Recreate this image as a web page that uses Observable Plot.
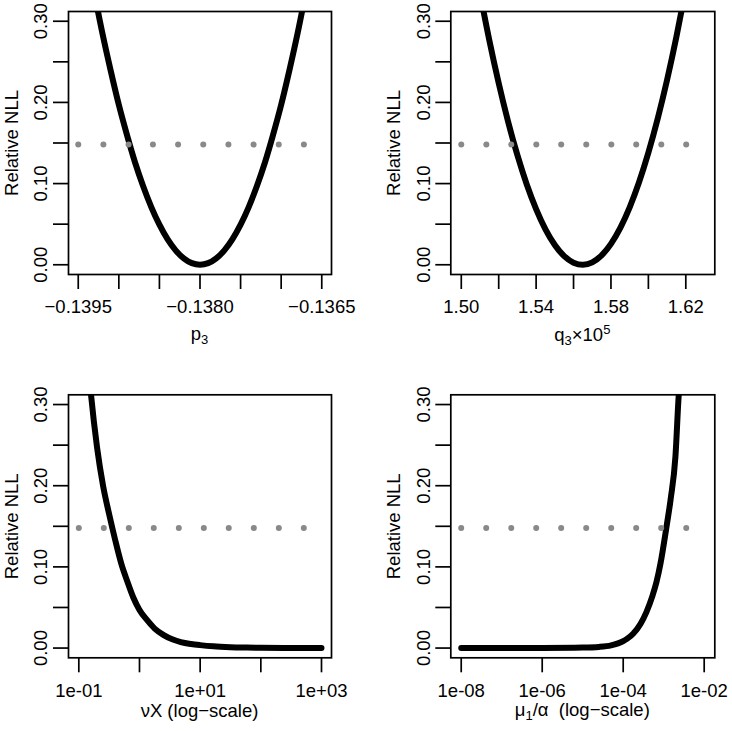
<!DOCTYPE html>
<html>
<head>
<meta charset="utf-8">
<script src="https://cdn.jsdelivr.net/npm/d3@7"></script>
<script src="https://cdn.jsdelivr.net/npm/@observablehq/plot@0.6"></script>
<style>
  html, body { margin: 0; padding: 0; background: #fff; }
  #fig { position: relative; width: 732px; height: 731px; background: #fff; overflow: hidden; }
  .panel { position: absolute; }
</style>
</head>
<body>
<div id="fig"></div>
<script>
// ---------------- data ----------------
const nllLevel = 0.148;

// panel 1: p3
const p3X = [-0.1395,-0.1394,-0.1393,-0.1392,-0.1391,-0.1390,-0.1389,-0.1388,-0.1387,-0.1386,-0.1385,-0.1384,-0.1383,-0.1382,-0.1381,-0.1380,-0.1379,-0.1378,-0.1377,-0.1376,-0.1375,-0.1374,-0.1373,-0.1372,-0.1371,-0.1370,-0.1369,-0.1368,-0.1367,-0.1366,-0.1365];
const p3NLL = [0.444,0.387,0.334,0.284,0.239,0.197,0.160,0.126,0.0968,0.0711,0.0494,0.0316,0.0178,0.0079,0.0020,0.0,0.0020,0.0079,0.0178,0.0316,0.0494,0.0711,0.0968,0.126,0.160,0.197,0.239,0.284,0.334,0.387,0.444];
const p3Dots = [-0.1395,-0.13919,-0.13888,-0.13858,-0.13827,-0.13796,-0.13765,-0.13734,-0.13703,-0.13672];
const p3Ticks = [-0.1395,-0.1390,-0.1385,-0.1380,-0.1375,-0.1370,-0.1365];
const p3TickLabels = ["\u22120.1395","","","\u22120.1380","","","\u22120.1365"];

// panel 2: q3 x 10^5
const q3X = [1.500,1.505,1.510,1.515,1.520,1.525,1.530,1.535,1.540,1.545,1.550,1.555,1.560,1.565,1.570,1.575,1.580,1.585,1.590,1.595,1.600,1.605,1.610,1.615,1.620,1.625,1.630];
const q3NLL = [0.468,0.399,0.335,0.2765,0.2238,0.1766,0.1350,0.0990,0.0686,0.0437,0.0244,0.0107,0.0026,0.0,0.0030,0.0116,0.0258,0.0455,0.0708,0.1017,0.1382,0.1802,0.2278,0.281,0.3398,0.404,0.474];
const q3Dots = [1.5000,1.5134,1.5267,1.5401,1.5534,1.5668,1.5802,1.5935,1.6069,1.6202];
const q3Ticks = [1.50,1.52,1.54,1.56,1.58,1.60,1.62];
const q3TickLabels = ["1.50","","1.54","","1.58","","1.62"];

// panel 3: nu X (log scale)
const nuX = [0.1,0.126,0.158,0.2,0.251,0.316,0.398,0.501,0.631,0.794,1,1.35,1.78,2.51,3.55,4.79,7.08,10,16.6,31.6,58.9,100,316,1000];
const nuNLL = [0.50,0.40,0.314,0.247,0.200,0.165,0.133,0.104,0.082,0.062,0.047,0.034,0.024,0.016,0.0105,0.0074,0.0050,0.0036,0.0021,0.0011,0.0006,0.0003,0.0001,0.0];
const nuDots = [0.1,0.258,0.667,1.72,4.45,11.5,29.6,76.6,198,511];
const nuTicks = [0.1,1,10,100,1000];
const nuTickLabels = ["1e-01","","1e+01","","1e+03"];

// panel 4: mu1 / alpha (log scale)
const muX = [1e-8,1e-7,1e-6,1e-5,2.51e-5,5.01e-5,1e-4,1.26e-4,1.78e-4,2.69e-4,3.72e-4,5.25e-4,6.61e-4,8.32e-4,1.17e-3,1.48e-3,1.95e-3,2.34e-3,2.82e-3,3.16e-3,3.98e-3];
const muNLL = [0.0,0.0,0.0001,0.0006,0.0014,0.0033,0.0085,0.0116,0.018,0.030,0.044,0.064,0.081,0.104,0.149,0.183,0.236,0.31,0.357,0.40,0.50];
const muDots = [1e-8,4.14e-8,1.72e-7,7.11e-7,2.94e-6,1.22e-5,5.06e-5,2.09e-4,8.67e-4,3.60e-3];
const muTicks = [1e-8,1e-6,1e-4,1e-2];
const muTickLabels = ["1e-08","1e-06","1e-04","1e-02"];

// shared y axis
const yTicks = [0,0.05,0.10,0.15,0.20,0.25,0.30];
const yTickLabels = ["0.00","","0.10","","0.20","","0.30"];
const yTitle = "Relative NLL";

// axis titles: [text, level] level 0 normal, 1 subscript, 2 superscript
const xTitle1 = [["p",0],["3",1]];
const xTitle2 = [["q",0],["3",1],["\u00d7",0],["10",0],["5",2]];
const xTitle3 = [["\u03bdX (log\u2212scale)",0]];
const xTitle4 = [["\u03bc",0],["1",1],["/\u03b1  (log\u2212scale)",0]];

// ---------------- drawing ----------------
const FONT = "'Liberation Sans', Arial, Helvetica, sans-serif";
const FS = 18.5;

function panel(cfg) {
  const curve = cfg.cx.map((x, i) => ({x, y: cfg.cy[i]}));
  const labMap = new Map(cfg.ticks.map((t, i) => [t, cfg.tickLabels[i]]));
  const yLab = yTicks.map((v, i) => ({v, t: yTickLabels[i]})).filter(d => d.t !== "");
  const svg = Plot.plot({
    width: 366, height: cfg.height,
    marginLeft: cfg.ml, marginRight: cfg.mr, marginTop: cfg.mt, marginBottom: cfg.mb,
    x: {type: cfg.xType, domain: cfg.xDomain, label: null},
    y: {domain: [-0.012, 0.312], label: null},
    style: {fontFamily: FONT, fontSize: FS + "px", color: "black", background: "white", overflow: "visible"},
    marks: [
      Plot.line(curve, {x: "x", y: "y", stroke: "black", strokeWidth: 6, strokeLinecap: "round", strokeLinejoin: "round", curve: "monotone-x", clip: true}),
      Plot.dot(cfg.dots, {x: d => d, y: () => nllLevel, r: 3, fill: "#898989", stroke: "none"}),
      Plot.axisX({ticks: cfg.ticks, tickSize: 15, tickPadding: 10.8, tickFormat: d => labMap.get(d), strokeWidth: 1.7, label: null, fontSize: FS}),
      Plot.axisY({ticks: yTicks, tickSize: 15, tickFormat: () => "", strokeWidth: 1.7, label: null}),
      Plot.text(yLab, {y: "v", text: "t", frameAnchor: "left", dx: -27, rotate: -90, textAnchor: "middle", lineAnchor: "middle", fontSize: FS}),
      Plot.text([yTitle], {text: d => d, frameAnchor: "left", dx: -56.5, rotate: -90, textAnchor: "middle", lineAnchor: "middle", fontSize: FS}),
      Plot.frame({stroke: "black", strokeWidth: 1.7})
    ]
  });
  // axis title with sub/superscripts
  const cx = cfg.ml + (366 - cfg.ml - cfg.mr) / 2;
  const t = d3.select(svg).append("text")
    .attr("x", cx).attr("y", cfg.titleY)
    .attr("text-anchor", "middle")
    .style("font-family", FONT).style("font-size", FS + "px")
    .style("white-space", "pre").attr("fill", "black");
  let shift = 0;
  cfg.title.forEach(([s, lvl]) => {
    const target = lvl === 1 ? 4 : lvl === 2 ? -7.4 : 0;
    t.append("tspan")
      .attr("dy", target - shift)
      .style("font-size", (lvl ? 13 : FS) + "px")
      .text(s);
    shift = target;
  });
  const div = document.createElement("div");
  div.className = "panel";
  div.style.left = cfg.left + "px";
  div.style.top = cfg.top + "px";
  div.appendChild(svg);
  document.getElementById("fig").appendChild(div);
}

panel({left: 0, top: 0, height: 365, ml: 68, mr: 35, mt: 11, mb: 91,
  xType: "linear", xDomain: [-0.13962, -0.13638],
  cx: p3X, cy: p3NLL, dots: p3Dots, ticks: p3Ticks, tickLabels: p3TickLabels,
  title: xTitle1, titleY: 339.6});
panel({left: 366, top: 0, height: 365, ml: 84.3, mr: 17.7, mt: 11, mb: 91,
  xType: "linear", xDomain: [1.4944, 1.6355],
  cx: q3X, cy: q3NLL, dots: q3Dots, ticks: q3Ticks, tickLabels: q3TickLabels,
  title: xTitle2, titleY: 341});
panel({left: 0, top: 365, height: 366, ml: 68, mr: 35, mt: 29.3, mb: 73.7,
  xType: "log", xDomain: [0.0676, 1462],
  cx: nuX, cy: nuNLL, dots: nuDots, ticks: nuTicks, tickLabels: nuTickLabels,
  title: xTitle3, titleY: 351.5});
panel({left: 366, top: 365, height: 366, ml: 84.3, mr: 17.7, mt: 29.3, mb: 73.7,
  xType: "log", xDomain: [5.53e-9, 0.01828],
  cx: muX, cy: muNLL, dots: muDots, ticks: muTicks, tickLabels: muTickLabels,
  title: xTitle4, titleY: 351});
</script>
</body>
</html>
